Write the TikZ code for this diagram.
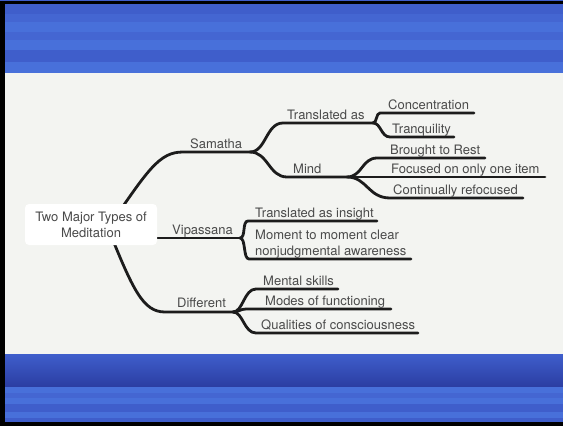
\documentclass[tikz,border=0pt]{standalone}
\usepackage{fontspec}
\setmainfont{TeX Gyre Heros}
\usepackage{tikz}

\definecolor{paper}{HTML}{F3F4F1}
\definecolor{bandA}{HTML}{3F5ECB}
\definecolor{bandB}{HTML}{4870DA}
\definecolor{bandC}{HTML}{4466D2}
\definecolor{bandD}{HTML}{2B3DA2}
\definecolor{ink}{HTML}{1C1C1C}
\definecolor{txt}{HTML}{4A4A4A}

\tikzset{
  branch/.style={ink,line width=2.8pt,line cap=round},
  lbl/.style={anchor=base west,inner sep=0pt,text=txt,font=\fontsize{13}{16}\selectfont},
  rootbox/.style={fill=white,rounded corners=4pt,minimum width=132pt,minimum height=41pt,
    align=center,text=txt,font=\fontsize{13}{16}\selectfont}
}

\begin{document}
\begin{tikzpicture}[x=1pt,y=-1pt]
      \useasboundingbox (0,0) rectangle (563,426);
      % frame and bands
      \fill[black] (0,0) rectangle (563,426);
      \fill[bandA] (0,0) rectangle (563,1.2);
      \fill[paper] (5,73) rectangle (563,354);
      \fill[bandA] (5,4) rectangle (563,73);
      \fill[bandC] (5,14) rectangle (563,22);
      \fill[bandB] (5,22) rectangle (563,32);
      \fill[bandC] (5,32) rectangle (563,40);
      \fill[bandB] (5,40) rectangle (563,50);
      \fill[bandB] (5,62) rectangle (563,73);
      \shade[top color=bandA,bottom color=bandD] (5,354) rectangle (563,387);
      \fill[bandB] (5,387) rectangle (563,393);
      \fill[bandC] (5,393) rectangle (563,398);
      \fill[bandB] (5,398) rectangle (563,404);
      \fill[bandA] (5,404) rectangle (563,412);
      \fill[bandB] (5,412) rectangle (563,418);
      \fill[bandA] (5,418) rectangle (563,422);

      % line ends
      \coordinate (hub) at (108,228);
      \coordinate (sam-a) at (183,152); \coordinate (sam-b) at (250,152);
      \coordinate (tra-a) at (283,123); \coordinate (tra-b) at (373,123);
      \coordinate (mind-a) at (287,177); \coordinate (mind-b) at (347,177);
      \coordinate (con-a) at (380,113); \coordinate (con-b) at (474,113);
      \coordinate (trq-a) at (390,137); \coordinate (trq-b) at (454,137);
      \coordinate (bro-a) at (377,158); \coordinate (bro-b) at (485,158);
      \coordinate (foc-b) at (545,177);
      \coordinate (cont-a) at (390,198); \coordinate (cont-b) at (523,198);
      \coordinate (vip-a) at (150,238); \coordinate (vip-b) at (240,238);
      \coordinate (ins-a) at (248,221); \coordinate (ins-b) at (377,221);
      \coordinate (mom-a) at (249,259); \coordinate (mom-b) at (411,259);
      \coordinate (dif-a) at (165,312); \coordinate (dif-b) at (233,312);
      \coordinate (men-a) at (256,289); \coordinate (men-b) at (338,289);
      \coordinate (mod-a) at (246,309); \coordinate (mod-b) at (391,309);
      \coordinate (qua-a) at (256,333); \coordinate (qua-b) at (418,333);

      % branches
      \draw[branch] (hub) .. controls +(40,-58) and +(-24,0) .. (sam-a) -- (sam-b);
      \draw[branch] (hub) .. controls +(25,62) and +(-22,0) .. (dif-a) -- (dif-b);
      \draw[branch] (vip-a) -- (vip-b);
      \draw[branch] (sam-b) .. controls +(16,0) and +(-17,0) .. (tra-a) -- (tra-b);
      \draw[branch] (sam-b) .. controls +(18,0) and +(-18,0) .. (mind-a) -- (mind-b);
      \draw[branch] (tra-b) .. controls +(4,0) and +(-4,0) .. (con-a) -- (con-b);
      \draw[branch] (tra-b) .. controls +(8,0) and +(-9,0) .. (trq-a) -- (trq-b);
      \draw[branch] (mind-b) .. controls +(15,0) and +(-15,0) .. (bro-a) -- (bro-b);
      \draw[branch] (mind-b) -- (foc-b);
      \draw[branch] (mind-b) .. controls +(20,0) and +(-22,0) .. (cont-a) -- (cont-b);
      \draw[branch] (vip-b) .. controls +(6,0) and +(-6,0) .. (ins-a) -- (ins-b);
      \draw[branch] (vip-b) .. controls +(6,0) and +(-6,0) .. (mom-a) -- (mom-b);
      \draw[branch] (dif-b) .. controls +(10,0) and +(-12,0) .. (men-a) -- (men-b);
      \draw[branch] (dif-b) .. controls +(6,0) and +(-6,0) .. (mod-a) -- (mod-b);
      \draw[branch] (dif-b) .. controls +(10,0) and +(-12,0) .. (qua-a) -- (qua-b);

      % topics
      \node[rootbox] (root) at (91,224.5) {Two Major Types of\\Meditation};
      \node[lbl] (sam) at (190,148.5) {Samatha};
      \node[lbl] (tra) at (287,119) {Translated as};
      \node[lbl] (mind) at (293,173) {Mind};
      \node[lbl] (con) at (388,109) {Concentration};
      \node[lbl] (trq) at (392,133) {Tranquility};
      \node[lbl] (bro) at (390,154) {Brought to Rest};
      \node[lbl] (foc) at (391,173) {Focused on only one item};
      \node[lbl] (cont) at (393,194) {Continually refocused};
      \node[lbl] (vip) at (172,234) {Vipassana};
      \node[lbl] (ins) at (255,217) {Translated as insight};
      \node[lbl,anchor=south west,align=left] (mom) at (255,258.2) {Moment to moment clear\\nonjudgmental awareness};
      \node[lbl] (dif) at (177,307) {Different};
      \node[lbl] (men) at (263,285) {Mental skills};
      \node[lbl] (mod) at (265,305) {Modes of functioning};
      \node[lbl] (qua) at (261,329) {Qualities of consciousness};
    \end{tikzpicture}
\end{document}
